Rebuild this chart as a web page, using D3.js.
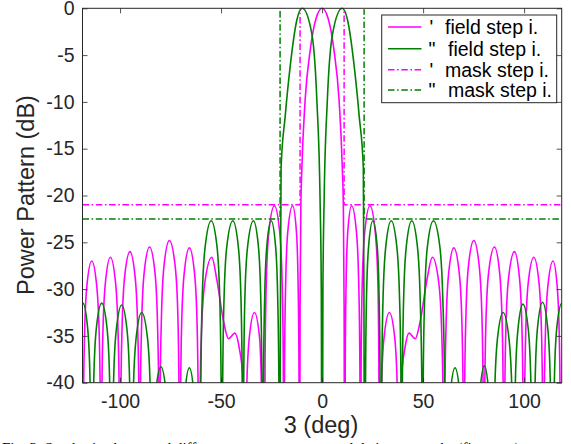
<!DOCTYPE html>
<html>
<head>
<meta charset="utf-8">
<script src="https://cdn.jsdelivr.net/npm/d3@7"></script>
<style>
  html, body { margin: 0; padding: 0; background: #fff; }
  svg { display: block; font-family: "Liberation Sans", Arial, sans-serif; }
</style>
</head>
<body>
<svg id="chart" width="571" height="444"></svg>
<script>
// ---- data -------------------------------------------------------------
const thetaRange = [-118.6, 118.6];          // deg
const dbRange = [-40, 0];                    // dB
const xTickValues = [-100, -50, 0, 50, 100];
const yTickValues = [0, -5, -10, -15, -20, -25, -30, -35, -40];

// sum pattern (first field), [theta deg, power dB]; nulls sit below the floor
const sumPattern = [
  [-118.5,-70],[-118.2,-44],[-117.6,-35],[-116.5,-29.8],[-114.0,-27.0],[-111.5,-29.8],[-110.3,-35],[-109.7,-44],
  [-109.4,-70],[-109.1,-43.6],[-108.5,-34.6],[-107.3,-29.4],[-104.8,-26.6],[-102.2,-29.4],[-101.0,-34.6],[-100.3,-43.6],
  [-100.0,-70],[-99.7,-43],[-99.0,-34],[-97.8,-28.8],[-95.1,-26.0],[-92.5,-28.8],[-91.3,-34],[-90.6,-43],
  [-90.3,-70],[-90.0,-42.5],[-89.3,-33.5],[-88.1,-28.3],[-85.4,-25.5],[-82.7,-28.3],[-81.5,-33.5],[-80.8,-42.5],
  [-80.5,-70],[-80.2,-41.8],[-79.5,-32.8],[-78.3,-27.6],[-75.6,-24.8],[-72.7,-27.6],[-71.4,-32.8],[-70.8,-41.8],
  [-70.4,-70],[-70.1,-42.6],[-69.5,-33.6],[-68.3,-28.4],[-65.7,-25.6],[-63.1,-28.4],[-61.9,-33.6],[-61.3,-42.6],
  [-61.0,-70],[-60.6,-43.6],[-59.7,-34.6],[-58.1,-29.4],[-54.6,-26.6],[-52.1,-29.0],[-48.9,-33.3],[-46.3,-35.3],
  [-43.2,-34.7],[-41.0,-36.3],[-39.0,-40],[-38.5,-48],
  [-38.2,-70],[-37.9,-49.5],[-37.3,-40.5],[-36.1,-35.3],[-33.5,-32.5],[-30.9,-35.3],[-30.0,-40.5],[-29.2,-49.5],
  [-28.6,-70],[-28.25,-38.1],[-27.6,-29.1],[-26.35,-23.9],[-23.6,-21.1],[-21.0,-23.9],[-19.8,-29.1],[-19.2,-38.1],
  [-18.9,-70],[-18.6,-38.1],[-18.0,-29.1],[-17.0,-23.9],[-14.6,-21.1],[-12.7,-23.9],[-11.9,-29.1],[-11.45,-38.1],
  [-11.2,-70],[-10.9,-32],[-10.5,-21],[-10.0,-17],[-8.4,-9.8],[-5.9,-4.5],[-3.0,-1.1],[0,0],
  [3.0,-1.1],[5.9,-4.5],[8.4,-9.8],[10.0,-17],[10.5,-21],[10.9,-32],
  [11.2,-70],[11.45,-38.1],[11.9,-29.1],[12.7,-23.9],[14.6,-21.1],[17.0,-23.9],[18.1,-29.1],[18.7,-38.1],
  [19.0,-70],[19.3,-38.1],[19.9,-29.1],[21.1,-23.9],[23.7,-21.1],[26.3,-23.9],[27.6,-29.1],[28.1,-38.1],
  [28.4,-70],[28.8,-49.5],[29.4,-40.5],[30.6,-35.3],[33.3,-32.5],[36.0,-35.3],[37.2,-40.5],[37.9,-49.5],
  [38.3,-70],[38.6,-48],[39.1,-40],[41.0,-36.3],[43.0,-34.7],[46.1,-35.3],[48.7,-33.3],[51.9,-29.0],
  [54.6,-26.6],[57.8,-29.4],[59.2,-34.6],[60.0,-43.6],
  [60.4,-70],[60.7,-42.6],[61.4,-33.6],[62.6,-28.4],[65.2,-25.6],[67.95,-28.4],[69.2,-33.6],[69.85,-42.6],
  [70.2,-70],[70.5,-41.8],[71.2,-32.8],[72.4,-27.6],[75.1,-24.8],[77.8,-27.6],[79.1,-32.8],[79.75,-41.8],
  [80.1,-70],[80.45,-42.5],[81.1,-33.5],[82.4,-28.3],[85.3,-25.5],[87.9,-28.3],[89.1,-33.5],[89.7,-42.5],
  [90.0,-70],[90.35,-43],[91.0,-34],[92.3,-28.8],[95.2,-26.0],[97.7,-28.8],[98.9,-34],[99.5,-43],
  [99.8,-70],[100.15,-43.6],[100.8,-34.6],[102.0,-29.4],[104.8,-26.6],[107.4,-29.4],[108.6,-34.6],[109.2,-43.6],
  [109.5,-70],[109.85,-44],[110.5,-35],[111.7,-29.8],[114.3,-27.0],[116.4,-29.8],[117.4,-35],[117.9,-44],
  [118.2,-70],[118.8,-62]
];

// difference pattern (second field)
const diffPattern = [
  [-120.5,-33],[-118.4,-31.5],[-116.0,-34.3],[-114.9,-39.5],[-114.3,-48.5],
  [-114.0,-70],[-113.65,-48.5],[-113.0,-39.5],[-111.8,-34.3],[-109.1,-31.5],[-106.4,-34.3],[-105.2,-39.5],[-104.55,-48.5],
  [-104.2,-70],[-103.85,-48.7],[-103.2,-39.7],[-101.95,-34.5],[-99.2,-31.7],[-96.5,-34.5],[-95.3,-39.7],[-94.7,-48.7],
  [-94.4,-70],[-94.05,-49.5],[-93.4,-40.5],[-92.1,-35.3],[-89.3,-32.5],[-86.4,-35.3],[-85.1,-40.5],[-84.4,-49.5],
  [-84.0,-70],[-83.6,-55],[-83.0,-46.3],[-82.4,-41.1],[-79.8,-38.3],[-77.2,-41.1],[-76.6,-46.3],[-76.0,-55],
  [-75.6,-70],[-72.6,-46],
  [-69.8,-70],[-69.3,-55],[-68.7,-46.3],[-67.9,-41.1],[-65.7,-38.4],[-63.5,-41.1],[-62.4,-46.3],[-61.1,-55],
  [-60.4,-70],[-60.0,-39.7],[-59.3,-30.7],[-57.9,-25.5],[-54.9,-22.7],[-52.0,-25.5],[-50.7,-30.7],[-50.0,-39.7],
  [-49.6,-70],[-49.2,-39.7],[-48.5,-30.7],[-47.2,-25.5],[-44.2,-22.7],[-41.45,-25.5],[-40.2,-30.7],[-39.55,-39.7],
  [-39.2,-70],[-38.8,-39.7],[-38.2,-30.7],[-36.9,-25.5],[-34.0,-22.7],[-31.5,-25.5],[-30.4,-30.7],[-29.8,-39.7],
  [-29.4,-70],[-29.0,-39.7],[-28.4,-30.7],[-27.4,-25.5],[-25.2,-22.7],[-23.0,-25.5],[-22.0,-30.7],[-21.4,-39.7],
  [-21.0,-70],[-20.6,-30],[-20.3,-17],[-18.3,-11.6],[-15.8,-6.2],[-12.5,-1.25],[-9.8,0],[-5.1,-2.7],
  [-2.6,-9.8],[-1.0,-20.5],[-0.4,-30],
  [0,-70],[0.4,-30],[1.0,-20.5],[2.6,-9.8],[5.2,-2.7],[9.9,0],[12.6,-1.25],[15.9,-6.2],[18.4,-11.6],[20.4,-17],[20.7,-30],
  [21.1,-70],[21.5,-39.7],[22.0,-30.7],[23.0,-25.5],[25.1,-22.7],[27.3,-25.5],[28.2,-30.7],[28.7,-39.7],
  [29.2,-70],[29.55,-39.7],[30.2,-30.7],[31.5,-25.5],[34.2,-22.7],[37.0,-25.5],[38.3,-30.7],[39.05,-39.7],
  [39.4,-70],[39.75,-39.7],[40.4,-30.7],[41.65,-25.5],[44.4,-22.7],[47.2,-25.5],[48.5,-30.7],[49.35,-39.7],
  [49.7,-70],[50.05,-39.7],[50.8,-30.7],[52.1,-25.5],[55.1,-22.7],[58.3,-25.5],[59.7,-30.7],[60.6,-39.7],
  [61.0,-70],[61.4,-55],[62.3,-46.3],[63.5,-41.1],[65.8,-38.4],[68.1,-41.1],[69.2,-46.3],[69.9,-55],
  [70.3,-70],[73.2,-46],
  [76.0,-70],[76.5,-55],[77.3,-46.3],[78.1,-41.1],[80.3,-38.2],[82.5,-41.1],[83.3,-46.3],[84.0,-55],
  [84.5,-70],[84.85,-49.5],[85.5,-40.5],[86.8,-35.3],[89.6,-32.5],[92.5,-35.3],[93.9,-40.5],[94.45,-49.5],
  [94.8,-70],[95.1,-48.6],[95.7,-39.6],[96.9,-34.4],[99.4,-31.6],[102.1,-34.4],[103.3,-39.6],[104.1,-48.6],
  [104.6,-70],[104.9,-48.4],[105.5,-39.4],[106.6,-34.2],[109.1,-31.4],[111.7,-34.2],[112.9,-39.4],[113.6,-48.4],
  [114.0,-70],[114.35,-48.5],[115.0,-39.5],[116.1,-34.3],[118.7,-31.5],[120.5,-33]
];

// step masks (upper bounds)
const sumMask  = [[-118.6,-21],[-10.9,-21],[-10.9,0],[10.9,0],[10.9,-21],[118.6,-21]];
const diffMask = [[-118.6,-22.5],[-20.8,-22.5],[-20.8,0],[20.8,0],[20.8,-22.5],[118.6,-22.5]];

const legendMarks  = ["'", "\"", "'", "\""];
const legendLabels = ["field step i.", "field step i.", "mask step i.", "mask step i."];

const xTitle = "3 (deg)";
const yTitle = "Power Pattern (dB)";
const caption = "Fig. 3.  Synthesized sum and difference power patterns and their step masks (first step).";

// ---- layout -----------------------------------------------------------
const plot = { left: 82.5, right: 561.7, top: 8.3, bottom: 382.7 };
const MAGENTA = "#ff00ff", GREEN = "#008000", INK = "#262626";

const svg = d3.select("#chart");
const x = d3.scaleLinear().domain(thetaRange).range([plot.left, plot.right]);
const y = d3.scaleLinear().domain(dbRange).range([plot.bottom, plot.top]);

const defs = svg.append("defs");
// field curves may touch the top border; masks stay strictly inside it
defs.append("clipPath").attr("id", "fieldClip")
  .append("rect")
  .attr("x", plot.left).attr("y", 0)
  .attr("width", plot.right - plot.left).attr("height", plot.bottom);
defs.append("clipPath").attr("id", "maskClip")
  .append("rect")
  .attr("x", plot.left).attr("y", plot.top + 0.9)
  .attr("width", plot.right - plot.left).attr("height", plot.bottom - plot.top - 0.9);

const field = d3.line().x(d => x(d[0])).y(d => y(d[1])).curve(d3.curveMonotoneX);
const step  = d3.line().x(d => x(d[0])).y(d => y(d[1]));

const gField = svg.append("g").attr("clip-path", "url(#fieldClip)");
const gMask  = svg.append("g").attr("clip-path", "url(#maskClip)");
const dashDot = "6.5,2.6,1.6,2.6";

gField.append("path").attr("d", field(sumPattern))
  .attr("fill", "none").attr("stroke", MAGENTA).attr("stroke-width", 1.6);
gField.append("path").attr("d", field(diffPattern))
  .attr("fill", "none").attr("stroke", GREEN).attr("stroke-width", 1.6);
gMask.append("path").attr("d", step(sumMask))
  .attr("fill", "none").attr("stroke", MAGENTA).attr("stroke-width", 1.5)
  .attr("stroke-dasharray", dashDot);
gMask.append("path").attr("d", step(diffMask))
  .attr("fill", "none").attr("stroke", GREEN).attr("stroke-width", 1.5)
  .attr("stroke-dasharray", dashDot);

// ---- axes -------------------------------------------------------------
const fmt = d => String(d);
const tickFont = "19.5px";

const xAxisB = svg.append("g").attr("transform", `translate(0,${plot.bottom})`)
  .call(d3.axisBottom(x).tickValues(xTickValues).tickFormat(fmt)
        .tickSizeInner(-5).tickSizeOuter(0).tickPadding(11));
const xAxisT = svg.append("g").attr("transform", `translate(0,${plot.top})`)
  .call(d3.axisTop(x).tickValues(xTickValues).tickFormat("")
        .tickSizeInner(-5).tickSizeOuter(0));
const yAxisL = svg.append("g").attr("transform", `translate(${plot.left},0)`)
  .call(d3.axisLeft(y).tickValues(yTickValues).tickFormat(fmt)
        .tickSizeInner(-5).tickSizeOuter(0).tickPadding(8));
const yAxisR = svg.append("g").attr("transform", `translate(${plot.right},0)`)
  .call(d3.axisRight(y).tickValues(yTickValues).tickFormat("")
        .tickSizeInner(-5).tickSizeOuter(0));

[xAxisB, xAxisT, yAxisL, yAxisR].forEach(a => {
  a.select(".domain").remove();
  a.selectAll(".tick line").attr("stroke", INK).attr("stroke-width", 0.8);
  a.selectAll(".tick text").attr("fill", INK)
    .style("font-size", tickFont).style("font-family", "'Liberation Sans', Arial, sans-serif");
});

svg.append("rect")
  .attr("x", plot.left).attr("y", plot.top)
  .attr("width", plot.right - plot.left).attr("height", plot.bottom - plot.top)
  .attr("fill", "none").attr("stroke", INK).attr("stroke-width", 1);

svg.append("text")
  .attr("x", 321).attr("y", 433)
  .attr("text-anchor", "middle").attr("fill", INK)
  .style("font-size", "23.5px")
  .text(xTitle);

svg.append("text")
  .attr("transform", "translate(34,195) rotate(-90)")
  .attr("text-anchor", "middle").attr("fill", INK)
  .style("font-size", "23.5px")
  .text(yTitle);

// ---- legend -----------------------------------------------------------
const legend = svg.append("g");
legend.append("rect")
  .attr("x", 381.7).attr("y", 15).attr("width", 175).attr("height", 87.7)
  .attr("fill", "#fff").attr("stroke", INK).attr("stroke-width", 1);

const rowY = [27, 48.7, 69.7, 90];
const legendColors = [MAGENTA, GREEN, MAGENTA, GREEN];
legendLabels.forEach((label, i) => {
  const ly = rowY[i];
  const line = legend.append("line")
    .attr("x1", 388).attr("x2", 421.5).attr("y1", ly).attr("y2", ly)
    .attr("stroke", legendColors[i]).attr("stroke-width", i < 2 ? 1.6 : 1.5);
  if (i >= 2) line.attr("stroke-dasharray", dashDot);
  legend.append("text")
    .attr("x", i % 2 === 0 ? 429.5 : 428.5).attr("y", ly + 7)
    .attr("fill", "#000").style("font-size", "19.5px")
    .text(legendMarks[i]);
  legend.append("text")
    .attr("x", i % 2 === 0 ? 445 : 448).attr("y", ly + 7)
    .attr("fill", "#000").style("font-size", "19.5px")
    .text(label);
});

// ---- caption (runs off the bottom edge) -------------------------------
svg.append("text")
  .attr("x", 2).attr("y", 453.3)
  .attr("fill", "#000")
  .style("font-family", "'Liberation Serif', 'Times New Roman', serif")
  .style("font-size", "15px")
  .text(caption);
</script>
</body>
</html>
